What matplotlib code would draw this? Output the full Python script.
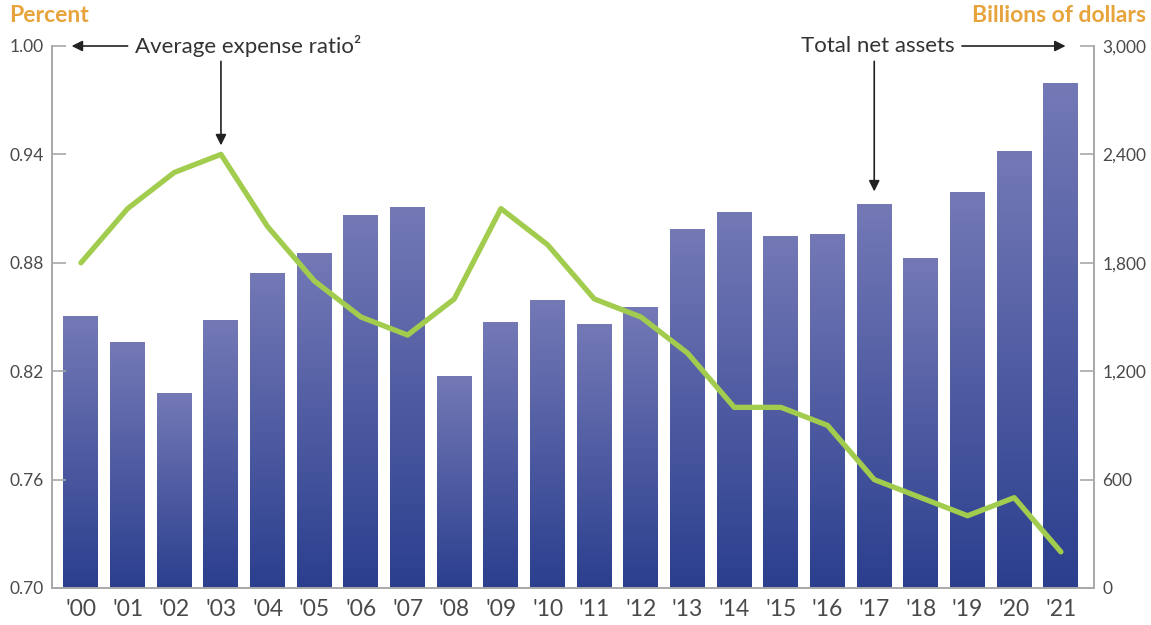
import numpy as np
import matplotlib
matplotlib.use("Agg")
from matplotlib import pyplot as plt
from matplotlib.colors import LinearSegmentedColormap

plt.rcParams['font.family'] = ['Lato', 'DejaVu Sans']

years = ["'00", "'01", "'02", "'03", "'04", "'05", "'06", "'07", "'08", "'09", "'10",
         "'11", "'12", "'13", "'14", "'15", "'16", "'17", "'18", "'19", "'20", "'21"]
# total net assets, billions of dollars
assets = [1505, 1361, 1074, 1483, 1743, 1854, 2064, 2108, 1173, 1472, 1594,
          1461, 1555, 1987, 2081, 1948, 1959, 2125, 1826, 2191, 2418, 2795]
# average expense ratio, percent
expense = [0.88, 0.91, 0.93, 0.94, 0.90, 0.87, 0.85, 0.84, 0.86, 0.91, 0.89,
           0.86, 0.85, 0.83, 0.80, 0.80, 0.79, 0.76, 0.75, 0.74, 0.75, 0.72]

left_ticks = [0.70, 0.76, 0.82, 0.88, 0.94, 1.00]
right_ticks = [0, 600, 1200, 1800, 2400, 3000]

ORANGE = '#e8a43c'
GREEN = '#a2cc4e'
SPINE = '#a8a8a8'
TXT = '#4a4a4a'

fig = plt.figure(figsize=(11.51, 6.25), dpi=100)
ax = fig.add_axes([0.0452, 0.0592, 0.9053, 0.8672])
ax2 = ax.twinx()
ax.set_zorder(ax2.get_zorder() + 1)
ax.patch.set_visible(False)

x = np.arange(len(years))
w = 0.75
cmap = LinearSegmentedColormap.from_list('bars', ['#2b3f8e', '#7479b6'])
grad = np.linspace(0, 1, 256).reshape(-1, 1)
for xi, v in zip(x, assets):
    ax2.imshow(grad, cmap=cmap, origin='lower', aspect='auto',
               extent=(xi - w / 2, xi + w / 2, 0, v), interpolation='bilinear')

ax2.set_ylim(0, 3000)
ax2.set_xlim(-0.62, 21.71)

ax.plot(x, expense, color=GREEN, lw=3.8, solid_capstyle='round', solid_joinstyle='round')
ax.set_ylim(0.70, 1.00)
ax.set_xlim(-0.62, 21.71)

ax.set_yticks(left_ticks)
ax.set_yticklabels(['%.2f' % t for t in left_ticks])
ax2.set_yticks(right_ticks)
ax2.set_yticklabels(['{:,}'.format(t) for t in right_ticks])
ax.set_xticks(x)
ax.set_xticklabels(years)

for a in (ax, ax2):
    for s in a.spines.values():
        s.set_color(SPINE)
        s.set_linewidth(1.2)
    a.spines['top'].set_visible(False)
ax.tick_params(axis='y', direction='in', length=10, width=1.2, color=SPINE,
               labelsize=12.5, labelcolor=TXT, pad=6)
ax2.tick_params(axis='y', direction='in', length=10, width=1.2, color=SPINE,
                labelsize=12.5, labelcolor=TXT, pad=6)
ax.tick_params(axis='x', length=0, labelsize=16.5, labelcolor=TXT, pad=8)

fig.text(0.008, 0.975, 'Percent', color=ORANGE, fontsize=16.5, fontweight='bold',
         ha='left', va='center')
fig.text(0.996, 0.975, 'Billions of dollars', color=ORANGE, fontsize=16.5,
         fontweight='bold', ha='right', va='center')

arrow = dict(arrowstyle='-|>', color='#222222', lw=1.2, mutation_scale=16,
             shrinkA=0, shrinkB=0)
ax.text(1.16, 1.0, 'Average expense ratio²', fontsize=16, color='#333333',
        ha='left', va='center', clip_on=False)
ax.annotate('', xy=(-0.2, 1.0), xytext=(1.0, 1.0), arrowprops=arrow,
            annotation_clip=False)
ax.annotate('', xy=(3.0, 0.945), xytext=(3.0, 0.9915), arrowprops=arrow,
            annotation_clip=False)

ax.text(18.73, 1.0, 'Total net assets', fontsize=16, color='#333333',
        ha='right', va='center', clip_on=False)
ax.annotate('', xy=(21.1, 1.0), xytext=(18.88, 1.0), arrowprops=arrow,
            annotation_clip=False)
ax.annotate('', xy=(17.0, 0.9195), xytext=(17.0, 0.9915), arrowprops=arrow,
            annotation_clip=False)

fig.savefig('out.png', dpi=100, facecolor='white')
